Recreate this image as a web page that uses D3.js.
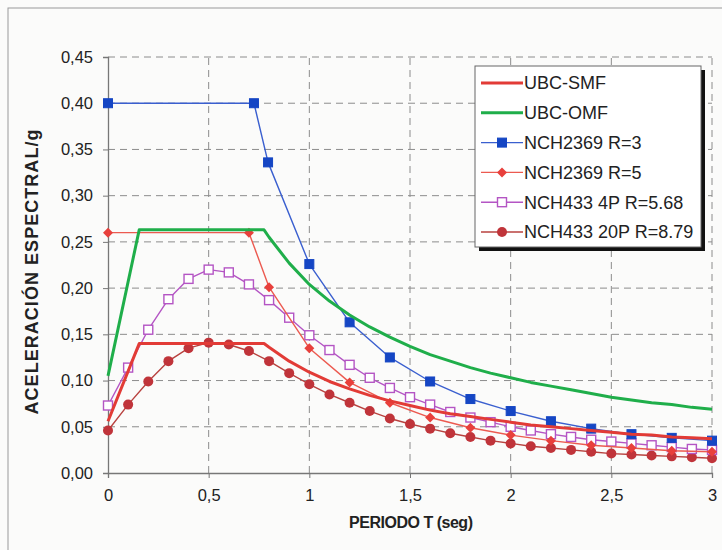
<!DOCTYPE html>
<html>
<head>
<meta charset="utf-8">
<script src="https://cdn.jsdelivr.net/npm/d3@7"></script>
<style>
  body { margin: 0; background: #fbfbfa; }
  svg text { font-family: "Liberation Sans", Arial, sans-serif; fill: #222; }
</style>
</head>
<body>
<svg id="chart"></svg>
<script>
const width = 722, height = 550;

// periods (s)
const tUbc = [0, 0.155, 0.775, 0.8, 0.9, 1.0, 1.1, 1.2, 1.3, 1.4, 1.5, 1.6, 1.7, 1.8, 1.9, 2.0,
              2.1, 2.2, 2.3, 2.4, 2.5, 2.6, 2.7, 2.8, 2.9, 3.0];
const ubcSmf = [0.056, 0.140, 0.140, 0.136, 0.121, 0.109, 0.099, 0.091, 0.084, 0.078, 0.073, 0.068, 0.064,
                0.061, 0.058, 0.055, 0.052, 0.050, 0.048, 0.046, 0.044, 0.042, 0.041, 0.039, 0.038, 0.037];
const ubcOmf = [0.105, 0.263, 0.263, 0.255, 0.227, 0.204, 0.186, 0.171, 0.158, 0.147, 0.137, 0.128, 0.121,
                0.114, 0.108, 0.103, 0.098, 0.094, 0.090, 0.086, 0.082, 0.079, 0.076, 0.074, 0.071, 0.069];

const tR3 = [0, 0.725, 0.795, 1.0, 1.2, 1.4, 1.6, 1.8, 2.0, 2.2, 2.4, 2.6, 2.8, 3.0];
const nch2369R3 = [0.40, 0.40, 0.336, 0.226, 0.163, 0.125, 0.099, 0.080, 0.067, 0.056, 0.048, 0.042, 0.038, 0.035];
const tR5 = [0, 0.70, 0.80, 1.0, 1.2, 1.4, 1.6, 1.8, 2.0, 2.2, 2.4, 2.6, 2.8, 3.0];
const nch2369R5 = [0.26, 0.26, 0.201, 0.135, 0.098, 0.076, 0.060, 0.049, 0.041, 0.035, 0.030, 0.027, 0.024, 0.023];

const tNch433 = [0, 0.1, 0.2, 0.3, 0.4, 0.5, 0.6, 0.7, 0.8, 0.9, 1.0, 1.1, 1.2, 1.3, 1.4, 1.5,
                 1.6, 1.7, 1.8, 1.9, 2.0, 2.1, 2.2, 2.3, 2.4, 2.5, 2.6, 2.7, 2.8, 2.9, 3.0];
const nch433_4p = [0.073, 0.114, 0.155, 0.188, 0.210, 0.220, 0.217, 0.204, 0.187, 0.168, 0.149, 0.133, 0.117,
                   0.103, 0.092, 0.082, 0.074, 0.066, 0.060, 0.055, 0.050, 0.046, 0.042, 0.039, 0.036, 0.034,
                   0.032, 0.030, 0.028, 0.026, 0.025];
const nch433_20p = [0.046, 0.074, 0.099, 0.121, 0.135, 0.141, 0.139, 0.132, 0.121, 0.108, 0.096, 0.085, 0.076,
                    0.067, 0.059, 0.053, 0.048, 0.043, 0.039, 0.035, 0.032, 0.029, 0.027, 0.025, 0.023, 0.021,
                    0.020, 0.019, 0.018, 0.017, 0.016];

const xTicks = [0, 0.5, 1, 1.5, 2, 2.5, 3];
const yTicks = [0, 0.05, 0.10, 0.15, 0.20, 0.25, 0.30, 0.35, 0.40, 0.45];

const series = [
  { name: "UBC-SMF", t: tUbc, v: ubcSmf, color: "#e23b36", width: 3, marker: null },
  { name: "UBC-OMF", t: tUbc, v: ubcOmf, color: "#1fae4a", width: 3, marker: null },
  { name: "NCH2369 R=3", t: tR3, v: nch2369R3, color: "#3a5fcf", width: 1.4, marker: "square", fill: "#1546c4" },
  { name: "NCH2369 R=5", t: tR5, v: nch2369R5, color: "#ec5a50", width: 1.4, marker: "diamond", fill: "#e8403c" },
  { name: "NCH433 4P R=5.68", t: tNch433, v: nch433_4p, color: "#b455c4", width: 1.4, marker: "open", fill: "#fff" },
  { name: "NCH433 20P R=8.79", t: tNch433, v: nch433_20p, color: "#b8423f", width: 1.4, marker: "circle", fill: "#c0343a" }
];

const margin = { left: 108, right: 10, top: 57, bottom: 77 };

const svg = d3.select("#chart")
              .attr("width", width)
              .attr("height", height);

// outer frame
svg.append("rect")
   .attr("x", 8).attr("y", 8)
   .attr("width", width).attr("height", height)
   .attr("fill", "none")
   .attr("stroke", "#9a9a9a");

const x = d3.scaleLinear().domain([0, 3]).range([margin.left, width - margin.right]);
const y = d3.scaleLinear().domain([0, 0.45]).range([height - margin.bottom, margin.top]);

// gridlines
svg.append("g")
   .selectAll("line")
   .data(yTicks.slice(1))
   .enter()
   .append("line")
   .attr("x1", x(0)).attr("x2", x(3))
   .attr("y1", d => y(d)).attr("y2", d => y(d))
   .attr("stroke", "#8c8c8c")
   .attr("stroke-dasharray", "7,5");
svg.append("g")
   .selectAll("line")
   .data(xTicks.slice(1))
   .enter()
   .append("line")
   .attr("x1", d => x(d)).attr("x2", d => x(d))
   .attr("y1", y(0)).attr("y2", y(0.45))
   .attr("stroke", "#8c8c8c")
   .attr("stroke-dasharray", "7,5");

// axes
const fmt = d => d3.format(".2f")(d).replace(".", ",");
const yAxis = svg.append("g")
   .attr("transform", `translate(${x(0)},0)`)
   .call(d3.axisLeft(y).tickValues(yTicks).tickFormat(fmt).tickSize(5).tickPadding(10));
const xAxis = svg.append("g")
   .attr("transform", `translate(0,${y(0)})`)
   .call(d3.axisBottom(x).tickValues(xTicks).tickFormat(d => String(d).replace(".", ",")).tickSize(5).tickPadding(11));
[yAxis, xAxis].forEach(a => {
  a.select(".domain").attr("stroke", "#777").attr("stroke-width", 1.3);
  a.selectAll(".tick line").attr("stroke", "#777");
  a.selectAll("text").style("font-size", "16.5px").attr("fill", "#222");
});

// axis titles
svg.append("text")
   .attr("x", 411).attr("y", 528)
   .attr("text-anchor", "middle")
   .style("font-size", "16px").style("font-weight", "bold")
   .attr("textLength", 124)
   .text("PERIODO T (seg)");
svg.append("text")
   .attr("transform", "translate(38,272) rotate(-90)")
   .attr("text-anchor", "middle")
   .style("font-size", "18px").style("font-weight", "bold")
   .attr("textLength", 285)
   .text("ACELERACIÓN ESPECTRAL/g");

// lines and markers
const line = d3.line().x(d => x(d[0])).y(d => y(d[1]));

function drawMarker(g, type, s, cx, cy) {
  if (type === "square") {
    g.append("rect").attr("x", cx - 4.5).attr("y", cy - 4.5).attr("width", 9).attr("height", 9)
     .attr("fill", s.fill).attr("stroke", s.fill);
  } else if (type === "diamond") {
    g.append("path").attr("d", `M${cx},${cy - 5}L${cx + 5},${cy}L${cx},${cy + 5}L${cx - 5},${cy}Z`)
     .attr("fill", s.fill);
  } else if (type === "open") {
    g.append("rect").attr("x", cx - 4.5).attr("y", cy - 4.5).attr("width", 9).attr("height", 9)
     .attr("fill", "#fff").attr("stroke", s.color).attr("stroke-width", 1.4);
  } else if (type === "circle") {
    g.append("circle").attr("cx", cx).attr("cy", cy).attr("r", 5).attr("fill", s.fill);
  }
}

const plot = svg.append("g");
series.slice().reverse().forEach(s => {
  const pts = s.t.map((t, i) => [t, s.v[i]]);
  plot.append("path")
      .datum(pts)
      .attr("d", line)
      .attr("fill", "none")
      .attr("stroke", s.color)
      .attr("stroke-width", s.width)
      .attr("stroke-linejoin", "round");
  if (s.marker) {
    const mg = plot.append("g");
    pts.forEach(p => drawMarker(mg, s.marker, s, x(p[0]), y(p[1])));
  }
});

// legend
const lg = svg.append("g").attr("transform", "translate(475,66)");
lg.append("rect").attr("x", 4).attr("y", 4).attr("width", 226).attr("height", 181).attr("fill", "#111");
lg.append("rect").attr("width", 226).attr("height", 181).attr("fill", "#fff").attr("stroke", "#666");
series.forEach((s, i) => {
  const cy = 17 + i * 29.8;
  lg.append("line")
    .attr("x1", 6).attr("x2", 48).attr("y1", cy).attr("y2", cy)
    .attr("stroke", s.color).attr("stroke-width", s.width);
  if (s.marker) drawMarker(lg, s.marker, s, 27, cy);
  lg.append("text")
    .attr("x", 49).attr("y", cy)
    .attr("dy", "0.35em")
    .style("font-size", "18px")
    .text(s.name);
});
</script>
</body>
</html>
